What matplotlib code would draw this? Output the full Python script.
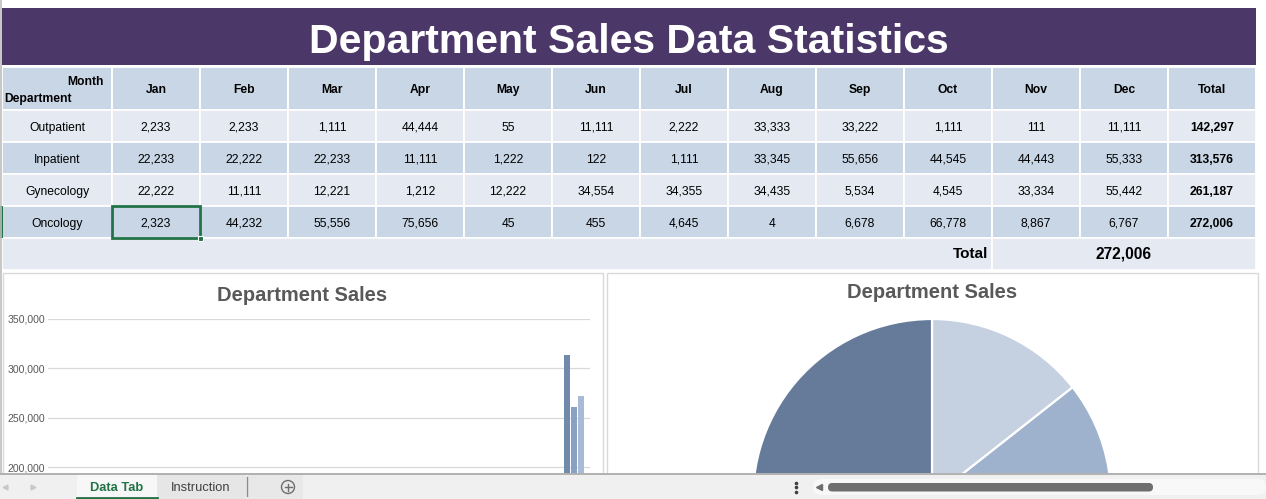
import matplotlib
matplotlib.use('Agg')
import matplotlib.pyplot as plt
from matplotlib.patches import Rectangle, Circle, FancyBboxPatch

plt.rcParams['font.family'] = ['Liberation Sans', 'DejaVu Sans']

months = ['Jan', 'Feb', 'Mar', 'Apr', 'May', 'Jun', 'Jul', 'Aug', 'Sep', 'Oct', 'Nov', 'Dec']
departments = ['Outpatient', 'Inpatient', 'Gynecology', 'Oncology']
outpatient = [2233, 2233, 1111, 44444, 55, 11111, 2222, 33333, 33222, 1111, 111, 11111]
inpatient = [22233, 22222, 22233, 11111, 1222, 122, 1111, 33345, 55656, 44545, 44443, 55333]
gynecology = [22222, 11111, 12221, 1212, 12222, 34554, 34355, 34435, 5534, 4545, 33334, 55442]
oncology = [2323, 44232, 55556, 75656, 45, 455, 4645, 4, 6678, 66778, 8867, 6767]
sheet_total = 272006   # the value the sheet shows in its bottom Total cell
y_ticks = [200000, 250000, 300000, 350000]

rows = [outpatient, inpatient, gynecology, oncology]
totals = [sum(r) for r in rows]

bar_colors = ['#5D7293', '#7189AA', '#89A2C4', '#A8BAD5']
pie_colors = ['#C5D0E1', '#9EB1CD', '#8196B6', '#667A99']

W, H = 1266, 499
PURPLE = '#4B3869'
HEAD = '#C9D6E6'
LIGHT = '#E5EAF2'
GREEN = '#217346'
GREY_TXT = '#595959'


def box(x0, y0, x1, y1):
    # pixel box (top-left origin) -> figure fraction rect
    return [x0 / W, 1 - y1 / H, (x1 - x0) / W, (y1 - y0) / H]


fig = plt.figure(figsize=(W / 100, H / 100), dpi=100)
sheet = fig.add_axes([0, 0, 1, 1])
sheet.set_xlim(0, W)
sheet.set_ylim(H, 0)
sheet.axis('off')

# left row-header edge
sheet.plot([0.8, 0.8], [0, 473], color='#BDBDBD', lw=1.2)

# title bar
sheet.add_patch(Rectangle((2, 8), 1254, 57, facecolor=PURPLE, edgecolor='none'))
sheet.text(629, 53, 'Department Sales Data Statistics', color='white', fontsize=29.5,
           fontweight='bold', ha='center', va='baseline')

# table grid
col_x = [2, 112] + [112 + 88 * (i + 1) for i in range(13)]
row_y = [67, 110, 142, 174, 206, 238, 270]

def cell(x0, x1, y0, y1, color):
    sheet.add_patch(Rectangle((x0, y0), x1 - x0, y1 - y0, facecolor=color,
                              edgecolor='white', lw=1.3))

# header
cell(col_x[0], col_x[1], row_y[0], row_y[1], HEAD)
sheet.text(104, 85, 'Month', fontsize=8.7, fontweight='bold', ha='right', va='baseline')
sheet.text(4, 101.7, 'Department', fontsize=8.7, fontweight='bold', ha='left', va='baseline')
for j, name in enumerate(months + ['Total']):
    cell(col_x[j + 1], col_x[j + 2], row_y[0], row_y[1], HEAD)
    sheet.text((col_x[j + 1] + col_x[j + 2]) / 2, 93.3, name, fontsize=8.7,
               fontweight='bold', ha='center', va='baseline')

# body
for i, (dept, vals) in enumerate(zip(departments, rows)):
    bg = LIGHT if i % 2 == 0 else HEAD
    y0, y1 = row_y[i + 1], row_y[i + 2]
    yb = (y0 + y1) / 2 + 5
    cell(col_x[0], col_x[1], y0, y1, bg)
    sheet.text((col_x[0] + col_x[1]) / 2, yb, dept, fontsize=8.7, ha='center', va='baseline')
    for j, v in enumerate(vals + [totals[i]]):
        cell(col_x[j + 1], col_x[j + 2], y0, y1, bg)
        sheet.text((col_x[j + 1] + col_x[j + 2]) / 2, yb, f'{v:,}', fontsize=8.7,
                   fontweight='bold' if j == 12 else 'normal', ha='center', va='baseline')

# bottom total row
cell(col_x[0], col_x[11], row_y[5], row_y[6], LIGHT)
cell(col_x[11], col_x[14], row_y[5], row_y[6], LIGHT)
sheet.text(988, 258.3, 'Total', fontsize=11, fontweight='bold', ha='right', va='baseline')
sheet.text(1123, 258.3, f'{sheet_total:,}', fontsize=11.2, fontweight='bold',
           ha='center', va='baseline')

# selected cell (Jan / Oncology)
sheet.add_patch(Rectangle((col_x[1], row_y[4]), 88, 32, facecolor='none',
                          edgecolor=GREEN, lw=2))
sheet.add_patch(Rectangle((col_x[2] - 2.5, row_y[5] - 2.5), 5, 5, facecolor=GREEN,
                          edgecolor='white', lw=0.8))
sheet.add_patch(Rectangle((0, row_y[4]), 2.5, 32, facecolor=GREEN, edgecolor='none'))

# chart frames
sheet.add_patch(Rectangle((3, 273), 600, 230, facecolor='white', edgecolor='#D9D9D9', lw=1))
sheet.add_patch(Rectangle((607, 273), 651, 230, facecolor='white', edgecolor='#D9D9D9', lw=1))
sheet.text(302, 300.7, 'Department Sales', fontsize=14.5, fontweight='bold',
           color=GREY_TXT, ha='center', va='baseline')
sheet.text(932, 298.5, 'Department Sales', fontsize=14.5, fontweight='bold',
           color=GREY_TXT, ha='center', va='baseline')

# clustered column chart (months + Total)
ax = fig.add_axes(box(48, 319, 590, 473))
cats = months + ['Total']
step, bw = 0.173, 0.137
for k, vals in enumerate(rows):
    xs = [c + (k - 1.5) * step + 0.03 for c in range(len(cats))]
    ax.bar(xs, vals + [totals[k]], width=bw, color=bar_colors[k], zorder=3)
ax.set_xlim(-0.5, len(cats) - 0.5)
ax.set_ylim(194444, 350000)
ax.set_yticks(y_ticks)
ax.set_yticklabels([f'{t:,}' for t in y_ticks])
ax.set_xticks([])
ax.tick_params(axis='y', length=0, pad=2, labelsize=7.6, labelcolor=GREY_TXT)
ax.grid(axis='y', color='#D9D9D9', lw=0.9)
for s in ax.spines.values():
    s.set_visible(False)
ax.patch.set_alpha(0)

# pie of department totals
pax = fig.add_axes(box(932 - 179, 498 - 179, 932 + 179, 498 + 179))
pax.pie(totals, colors=pie_colors, startangle=90, counterclock=False,
        wedgeprops=dict(edgecolor='white', linewidth=1.6))
pax.set_xlim(-1, 1)
pax.set_ylim(-1, 1)
pax.axis('off')

# sheet tab bar
tabs = fig.add_axes(box(0, 473, W, H))
tabs.set_xlim(0, W)
tabs.set_ylim(H, 473)
tabs.axis('off')
tabs.add_patch(Rectangle((0, 473), W, 26, facecolor='#F0F0F0', edgecolor='none'))
tabs.plot([0, W], [473.5, 473.5], color='#A6A6A6', lw=1.2)
tabs.add_patch(Rectangle((77, 474), 80, 25, facecolor='#F7F7F7', edgecolor='none'))
tabs.plot([77, 157], [497.5, 497.5], color=GREEN, lw=2)
tabs.add_patch(Rectangle((157, 474), 89, 25, facecolor='#E6E6E6', edgecolor='none'))
tabs.add_patch(Rectangle((248, 474), 55, 25, facecolor='#E8E8E8', edgecolor='none'))
tabs.plot([246.5, 246.5], [477, 496], color='#8C8C8C', lw=1)
tabs.text(117, 490.7, 'Data Tab', fontsize=9.3, fontweight='bold', color=GREEN,
          ha='center', va='baseline')
tabs.text(201, 490.7, 'Instruction', fontsize=9.3, color='#404040', ha='center', va='baseline')
tabs.add_patch(Circle((288, 487), 6.5, facecolor='none', edgecolor='#6E6E6E', lw=1))
tabs.plot([284.5, 291.5], [487, 487], color='#6E6E6E', lw=1)
tabs.plot([288, 288], [483.5, 490.5], color='#6E6E6E', lw=1)
tabs.plot([5], [487], marker='<', color='#C8C8C8', ms=3.5)
tabs.plot([33], [487], marker='>', color='#C8C8C8', ms=3.5)
tabs.plot([796, 796, 796], [482.5, 487, 491.5], 'o', color='#404040', ms=1.6)
tabs.add_patch(FancyBboxPatch((813, 479), 453, 16, boxstyle='round,pad=0,rounding_size=8',
                              facecolor='#F8F8F8', edgecolor='none'))
tabs.plot([819], [487], marker='<', color='#6E6E6E', ms=4)
tabs.add_patch(FancyBboxPatch((828, 483), 325, 8.5, boxstyle='round,pad=0,rounding_size=4.2',
                              facecolor='#6F6F6F', edgecolor='none'))

fig.savefig('out.png', dpi=100)
